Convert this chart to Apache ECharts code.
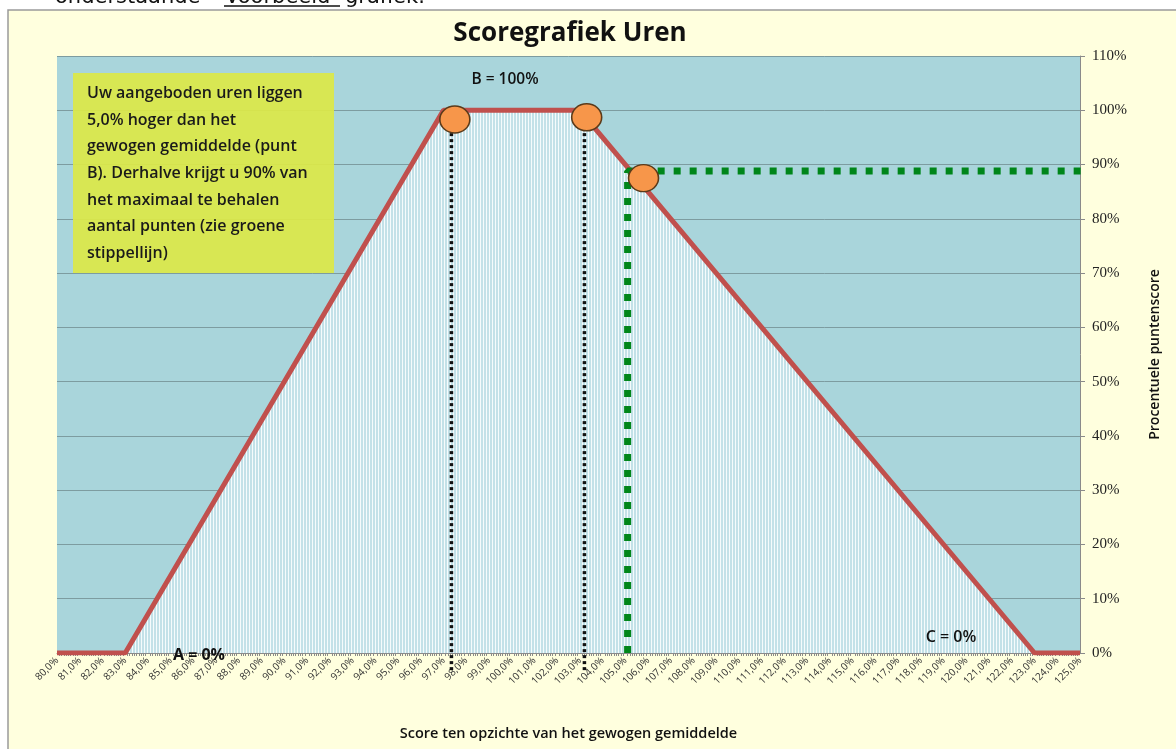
<!DOCTYPE html>
<html>
<head>
<meta charset="utf-8">
<script src="https://cdn.jsdelivr.net/npm/echarts@6/dist/echarts.min.js"></script>
<style>
  html, body { margin: 0; padding: 0; background: #ffffff; }
  #chart { width: 1176px; height: 749px; }
</style>
</head>
<body>
<div id="chart"></div>
<script>
// score curve: A = 0% at 83%, B = 100% between 97% and 103%, C = 0% at 123%
var scoreX = [80, 83, 97, 103, 123, 125];
var scoreY = [0, 0, 100, 100, 0, 0];

// the three orange markers
var markerX = [97.5, 103.3, 105.8];
var markerY = [98.3, 98.7, 87.5];

// black dotted verticals (below B)
var blackX = [97.35, 103.2];
var blackTop = [98, 98];
var blackBottom = -3.5;

// green dotted line for the offered hours
var offerX = 105.1;
var offerY = 88.8;
var offerEnd = 125.75;

var xMin = 80, xMax = 125;
var yMin = 0, yMax = 110;

var fontSans = '"Open Sans", "DejaVu Sans", sans-serif';

// striped fill under the curve
function stripes() {
  var c = document.createElement('canvas');
  c.width = 3; c.height = 2;
  var ctx = c.getContext('2d');
  ctx.fillStyle = '#c3e1e8';
  ctx.fillRect(0, 0, 3, 2);
  ctx.fillStyle = '#f5fbfc';
  ctx.fillRect(0, 0, 1, 2);
  return c;
}

var chart = echarts.init(document.getElementById('chart'));

var series = [];

series.push({
  type: 'line',
  data: scoreX.map(function (x, i) { return [x, scoreY[i]]; }),
  showSymbol: false,
  lineStyle: { color: '#c0504d', width: 5 },
  areaStyle: { color: { image: stripes(), repeat: 'repeat' }, opacity: 1 },
  z: 3
});

blackX.forEach(function (x, i) {
  series.push({
    type: 'line',
    data: [[x, blackTop[i]], [x, blackBottom]],
    showSymbol: false,
    clip: false,
    lineStyle: { color: '#111', width: 3.5, type: [3, 3] },
    z: 4
  });
});

series.push({
  type: 'line',
  data: [[offerX, 0], [offerX, offerY], [offerEnd, offerY]],
  showSymbol: false,
  clip: false,
  lineStyle: { color: '#00861a', width: 7, type: [7, 9] },
  z: 4
});

series.push({
  type: 'scatter',
  data: markerX.map(function (x, i) { return [x, markerY[i]]; }),
  symbol: 'circle',
  symbolSize: [30, 27],
  itemStyle: { color: '#f7964a', borderColor: '#5a3a1a', borderWidth: 1.5, opacity: 1 },
  z: 6
});

var docFont = { fontFamily: '"DejaVu Sans", sans-serif', fontSize: 21, fill: '#111', verticalAlign: 'bottom' };

var option = {
  animation: false,
  backgroundColor: '#ffffff',
  grid: {
    left: 57, right: 96, top: 56, bottom: 96,
    show: true, backgroundColor: '#a9d5db', borderWidth: 0
  },
  xAxis: {
    type: 'value',
    min: xMin, max: xMax, interval: 1,
    name: 'Score ten opzichte van het gewogen gemiddelde',
    nameLocation: 'middle',
    nameGap: 73,
    nameTextStyle: { fontFamily: fontSans, fontSize: 14.5, fontWeight: 600, color: '#111' },
    axisLine: { show: true, lineStyle: { color: '#8a8a8a', width: 1 } },
    axisTick: { show: false },
    minorTick: { show: true, splitNumber: 10, length: 3, lineStyle: { color: '#8a8a8a' } },
    splitLine: { show: false },
    axisLabel: {
      rotate: 45, fontSize: 10, color: '#333', fontFamily: fontSans, margin: 6,
      formatter: function (v) { return v.toFixed(1).replace('.', ',') + '%'; }
    }
  },
  yAxis: {
    type: 'value',
    position: 'right',
    min: yMin, max: yMax, interval: 10,
    name: 'Procentuele puntenscore',
    nameLocation: 'middle',
    nameRotate: 90,
    nameGap: 68,
    nameTextStyle: { fontFamily: fontSans, fontSize: 14, fontWeight: 600, color: '#111' },
    axisLine: { show: true, lineStyle: { color: '#8a8a8a' } },
    axisTick: { show: true, length: 5, lineStyle: { color: '#8a8a8a' } },
    splitLine: { show: true, lineStyle: { color: '#7d9ca0', width: 1 } },
    axisLabel: {
      fontFamily: '"Liberation Serif", serif', fontSize: 15, color: '#222', margin: 12,
      formatter: function (v) { return v + '%'; }
    }
  },
  graphic: [
    { type: 'rect', z: -10, shape: { x: 8, y: 10, width: 1200, height: 800 },
      style: { fill: '#ffffde', stroke: '#9a9a9a', lineWidth: 1.5 } },
    { type: 'text', x: 55, y: 8, z: 10, style: Object.assign({ text: 'onderstaande' }, docFont) },
    { type: 'text', x: 225, y: 8, z: 10, style: Object.assign({ text: 'Voorbeeld' }, docFont) },
    { type: 'text', x: 345, y: 8, z: 10, style: Object.assign({ text: 'grafiek.' }, docFont) },
    { type: 'line', z: 10, shape: { x1: 224, y1: 6, x2: 340, y2: 6 }, style: { stroke: '#111', lineWidth: 1.5 } },
    { type: 'text', x: 570, y: 34, z: 10,
      style: { text: 'Scoregrafiek Uren', fontFamily: fontSans, fontSize: 26, fontWeight: 'bold', fill: '#111', align: 'center', verticalAlign: 'middle' } },
    { type: 'rect', z: 10, shape: { x: 73, y: 73, width: 261, height: 200 },
      style: { fill: 'rgba(220,232,72,0.93)' } },
    { type: 'text', x: 87, y: 80, z: 11,
      style: {
        text: 'Uw aangeboden uren liggen\n5,0% hoger dan het\ngewogen gemiddelde (punt\nB). Derhalve krijgt u 90% van\nhet maximaal te behalen\naantal punten (zie groene\nstippellijn)',
        fontFamily: fontSans, fontSize: 16, fontWeight: 600, lineHeight: 26.7, fill: '#1a1a1a'
      } },
    { type: 'text', x: 505, y: 80, z: 10,
      style: { text: 'B = 100%', fontFamily: fontSans, fontSize: 15.5, fontWeight: 600, fill: '#111', align: 'center', verticalAlign: 'middle' } },
    { type: 'text', x: 199, y: 655, z: 10,
      style: { text: 'A = 0%', fontFamily: fontSans, fontSize: 16, fontWeight: 'bold', fill: '#111', align: 'center', verticalAlign: 'middle' } },
    { type: 'text', x: 951, y: 637, z: 10,
      style: { text: 'C = 0%', fontFamily: fontSans, fontSize: 16, fontWeight: 600, fill: '#111', align: 'center', verticalAlign: 'middle' } }
  ],
  series: series
};

chart.setOption(option);
</script>
</body>
</html>
